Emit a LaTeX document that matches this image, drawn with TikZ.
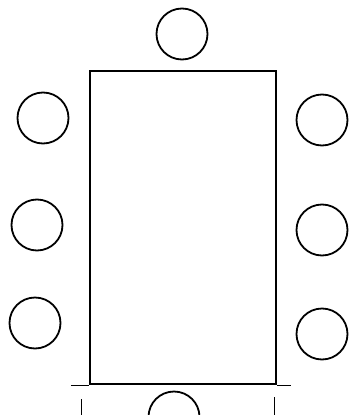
\documentclass[tikz,border=0pt]{standalone}
\usepackage{tikz}
\usetikzlibrary{calc,positioning}
\tikzset{
  tablebox/.style={draw,line width=2.2pt,minimum width=186pt,minimum height=313pt,inner sep=0pt},
  seat/.style={draw,circle,line width=1.8pt,minimum size=51pt,inner sep=0pt},
  dimline/.style={line width=1.1pt},
}

\begin{document}
\begin{tikzpicture}[x=1pt,y=-1pt]
    \useasboundingbox (0,0) rectangle (349,415);
    \clip (0,0) rectangle (349,415);
    % table
    \node[tablebox] (table) at (183,227.5) {};
    % seats, head and foot
    \node[seat] (headseat) at (182,34) {};
    \node[seat] (footseat) at (174,417) {};
    % seats, left side
    \node[seat] (left1) at (43,118) {};
    \node[seat] (left2) at (37,225) {};
    \node[seat] (left3) at (35,323) {};
    % seats, right side
    \node[seat] (right1) at (322,120) {};
    \node[seat] (right2) at (322,230) {};
    \node[seat] (right3) at (322,334) {};
    % extension lines at the foot
    \coordinate (extl) at ($(table.south west)+(-18,0)$);
    \coordinate (extr) at ($(table.south east)+(14,0)$);
    \draw[dimline] (extl) -- (table.south west) (table.south east) -- (extr);
    \coordinate (tickl) at ($(table.south west)+(-7,14)$);
    \coordinate (tickr) at ($(table.south east)+(-3,12)$);
    \draw[dimline] (tickl) -- ++(0,17) (tickr) -- ++(0,19);
  \end{tikzpicture}
\end{document}
